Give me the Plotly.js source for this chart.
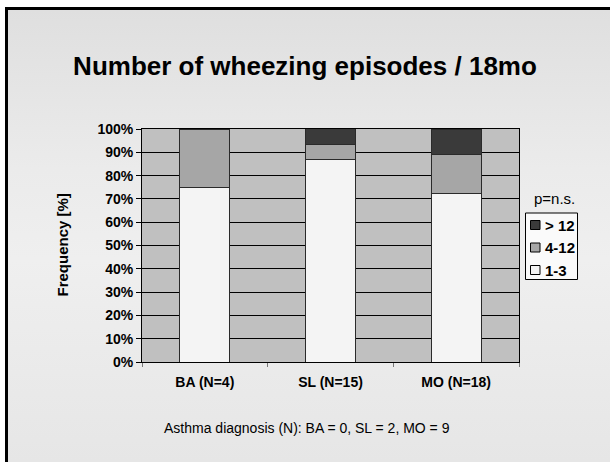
<!DOCTYPE html>
<html>
<head>
<meta charset="utf-8">
<script src="https://cdn.plot.ly/plotly-3.0.1.min.js"></script>
<style>
html,body{margin:0;padding:0;background:#fff;}
#wrap{position:absolute;left:0;top:0;width:610px;height:462px;background:#fff;}
#frame{position:absolute;left:5px;top:7px;width:605px;height:455px;box-sizing:border-box;border-left:3px solid #000;border-top:3px solid #000;
background:linear-gradient(to bottom,#dfdfdf 0%,#ebebeb 35%,#efefef 55%,#e6e6e6 100%);}
#chart{position:absolute;left:0;top:0;width:610px;height:462px;}
</style>
</head>
<body>
<div id="wrap"><div id="frame"></div><div id="chart"></div></div>
<script>
const categories = ['BA (N=4)', 'SL (N=15)', 'MO (N=18)'];
const seriesNames = ['1-3', '4-12', '> 12'];
const v1to3 = [0.75, 0.867, 0.722];
const v4to12 = [0.25, 0.067, 0.167];
const vOver12 = [0.0, 0.067, 0.111];
const yTicks = [0, 0.1, 0.2, 0.3, 0.4, 0.5, 0.6, 0.7, 0.8, 0.9, 1.0];
const colors = ['#F4F4F4', '#A6A6A6', '#3A3A3A'];

const font = 'Liberation Sans, Arial, sans-serif';
const vals = [v1to3, v4to12, vOver12];
const data = vals.map((v, i) => ({
  type: 'bar', x: categories, y: v, name: seriesNames[i],
  marker: {color: colors[i], line: {color: '#2a2a2a', width: 1}},
  hoverinfo: 'none', showlegend: false
}));

// plot area in pixels
const L = 142, R = 519, T = 129, B = 362;
const px = x => (x - L) / (R - L);
const py = y => (B - y) / (B - T);

const shapes = [];
const annotations = [
  {text: 'Frequency [%]', textangle: -90, xref: 'paper', yref: 'paper', x: px(62), y: 0.5,
   showarrow: false, xanchor: 'center', yanchor: 'middle', font: {family: font, size: 15, weight: 'bold', color: '#000'}},
  {text: 'p=n.s.', xref: 'paper', yref: 'paper', x: px(554), y: py(198), showarrow: false,
   xanchor: 'center', yanchor: 'middle', font: {family: font, size: 15, color: '#000'}},
  {text: 'Asthma diagnosis (N): BA = 0, SL = 2, MO = 9', xref: 'paper', yref: 'paper', x: px(307), y: py(428),
   showarrow: false, xanchor: 'center', yanchor: 'middle', font: {family: font, size: 14, color: '#000'}}
];
// legend box (drawn from series names/colors, top item = last series)
shapes.push({type: 'rect', xref: 'paper', yref: 'paper', x0: px(525.5), x1: px(577.5), y0: py(213), y1: py(279.5),
  line: {color: '#000', width: 1}, fillcolor: '#FAFAFA', layer: 'above'});
const itemY = [270, 247.5, 225];
seriesNames.forEach((name, i) => {
  const cy = itemY[i];
  shapes.push({type: 'rect', xref: 'paper', yref: 'paper', x0: px(530.5), x1: px(540), y0: py(cy - 4.5), y1: py(cy + 4.5),
    line: {color: '#000', width: 1}, fillcolor: colors[i], layer: 'above'});
  annotations.push({text: name, xref: 'paper', yref: 'paper', x: px(543), y: py(cy), showarrow: false,
    xanchor: 'left', yanchor: 'middle', font: {family: font, size: 15, weight: 'bold', color: '#000'}});
});

const layout = {
  width: 610, height: 462,
  paper_bgcolor: 'rgba(0,0,0,0)', plot_bgcolor: '#C0C0C0',
  margin: {l: L, r: 610 - R, t: T, b: 462 - B, pad: 0},
  barmode: 'stack', bargap: 0.6,
  showlegend: false,
  title: {text: 'Number of wheezing episodes / 18mo', font: {family: font, size: 26, weight: 'bold', color: '#000'},
          x: 0.5, xanchor: 'center', y: 1 - 66/462, yanchor: 'middle', xref: 'container', yref: 'container'},
  xaxis: {type: 'category', showline: true, linecolor: '#000', linewidth: 1, mirror: true,
          ticks: 'outside', tickson: 'boundaries', ticklen: 4, tickcolor: '#777', showgrid: false,
          ticklabelstandoff: 7,
          tickfont: {family: font, size: 14, weight: 'bold', color: '#000'}, fixedrange: true},
  yaxis: {range: [0, 1], tickvals: yTicks, tickformat: '.0%', showline: true, linecolor: '#000', linewidth: 1, mirror: true,
          ticks: 'outside', ticklen: 5, tickcolor: '#000', gridcolor: '#000', gridwidth: 1, zeroline: false,
          tickfont: {family: font, size: 14, weight: 'bold', color: '#000'}, fixedrange: true},
  shapes: shapes,
  annotations: annotations
};
Plotly.newPlot('chart', data, layout, {displayModeBar: false, staticPlot: true});
</script>
</body>
</html>
